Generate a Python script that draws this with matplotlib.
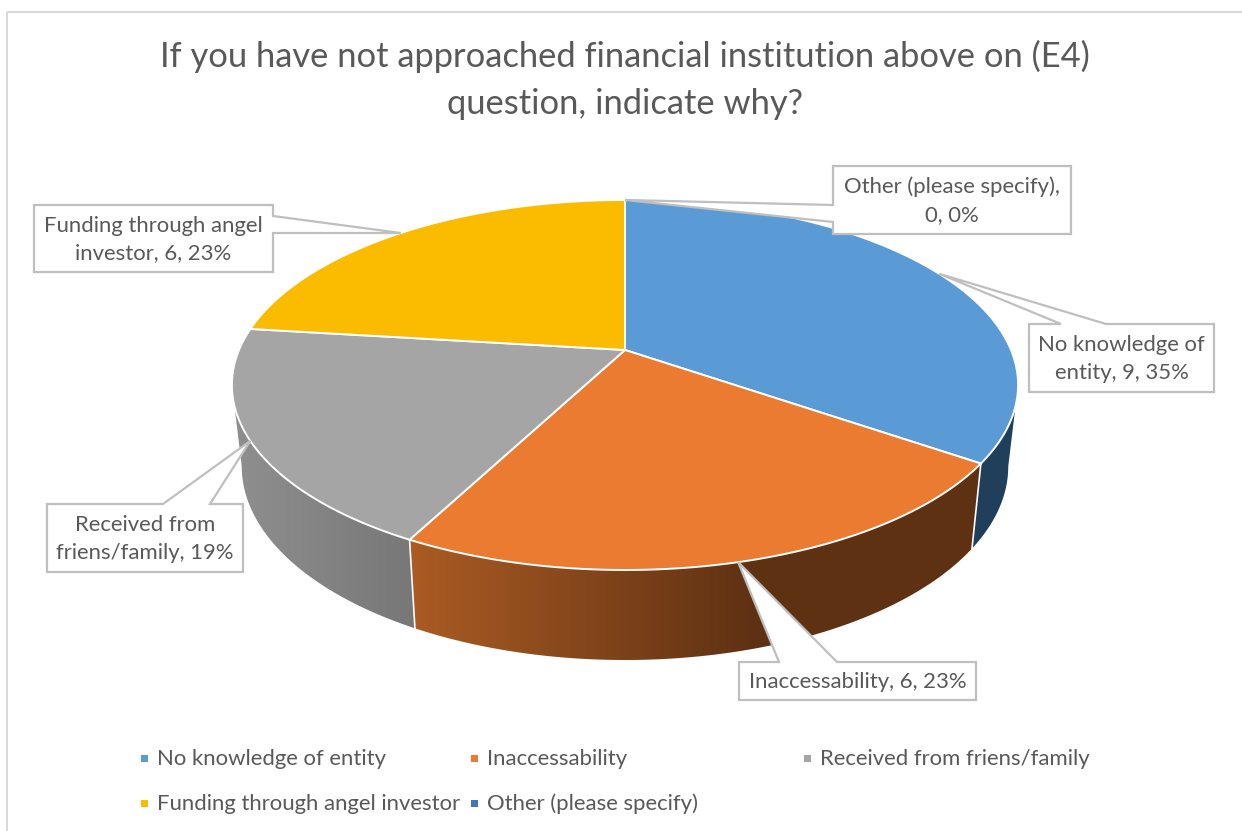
#3D style pie chart of the reasons for not approaching a financial institution
import numpy as np
import matplotlib.pyplot as plt
from matplotlib.patches import Polygon, Rectangle

plt.rcParams['font.family'] = ['Lato', 'DejaVu Sans']

title = 'If you have not approached financial institution above on (E4)\nquestion, indicate why?'
categories = ['No knowledge of entity', 'Inaccessability', 'Received from friens/family',
              'Funding through angel investor', 'Other (please specify)']
values = [9, 6, 5, 6, 0]
slice_labels = ['No knowledge of\nentity, 9, 35%', 'Inaccessability, 6, 23%',
                'Received from\nfriens/family, 19%', 'Funding through angel\ninvestor, 6, 23%',
                'Other (please specify),\n0, 0%']

colors = ['#5B9BD5', '#EA7B30', '#A5A5A5', '#FBBC00', '#4472C4']
# wall shading, left colour then right colour, with the x range of the ramp
wall_ramps = {0: ('#203F5B', '#203F5B', 970, 1020),
              1: ('#AB5B23', '#5E3113', 412, 760),
              2: ('#8E8E8E', '#777777', 240, 417)}
border = '#BFBFBF'
text_color = '#595959'

# callout boxes: x0, y0, x1, y1, side of the pointer, pointer base
callouts = [(1029, 324, 1214, 392, 'top', (1061, 1106)),
            (739, 662, 976, 700, 'top', (779, 837)),
            (47, 504, 243, 572, 'top', (163, 210)),
            (34, 205, 273, 272, 'right', (216, 233)),
            (833, 166, 1071, 234, 'left', (222, 205))]

legend_marks = [(144, 758), (474, 758), (807, 758), (144, 803), (474, 803)]

cx, cy = 625, 350
R, H, k = 386, 178.4, 0.189


def top_rim(theta):
    # perspective view of the pie top, theta runs clockwise from 12 o'clock
    u, v = np.sin(theta), np.cos(theta)
    den = 1 + k * v
    return cx + R * u / den, cy - H * v / den


def bottom_rim(theta):
    x, y = top_rim(theta)
    return cx + (x - cx) * 0.975, y + 85 + (y - 463) * 0.047


def callout_outline(box, tip):
    x0, y0, x1, y1, side, base = box
    pts = [(x0, y0)]
    if side == 'top':
        pts += [(base[0], y0), tip, (base[1], y0)]
    pts += [(x1, y0)]
    if side == 'right':
        pts += [(x1, base[0]), tip, (x1, base[1])]
    pts += [(x1, y1), (x0, y1)]
    if side == 'left':
        pts += [(x0, base[0]), tip, (x0, base[1])]
    return pts


fig = plt.figure(figsize=(12.42, 8.31), dpi=100)
ax = fig.add_axes([0, 0, 1, 1])

# chart frame
ax.add_patch(Rectangle((7, 12), 1300, 900, fill=False, ec='#D9D9D9', lw=1.5, zorder=1))

edges = np.cumsum([0] + values) / sum(values) * 2 * np.pi

# only the front of the rim shows a wall, between the two side extremes of the ellipse
front_start = np.arccos(-k)
front_end = 2 * np.pi - front_start

# outer walls
for i in range(len(values)):
    t0 = max(edges[i], front_start)
    t1 = min(edges[i + 1], front_end)
    if values[i] == 0 or t1 <= t0:
        continue
    t = np.linspace(t0, t1, 200)
    tx, ty = top_rim(t)
    bx, by = bottom_rim(t)
    xs = np.r_[tx, bx[::-1]]
    ys = np.r_[ty, by[::-1]]
    wall = Polygon(np.c_[xs, ys], closed=True, fc='none', ec='none', transform=ax.transData)
    ax.add_patch(wall)
    c0, c1, r0, r1 = wall_ramps[i]
    ramp = np.linspace(0, 1, 256)[None, :, None]
    rgb0 = np.array(plt.matplotlib.colors.to_rgb(c0))
    rgb1 = np.array(plt.matplotlib.colors.to_rgb(c1))
    im = ax.imshow(rgb0 + (rgb1 - rgb0) * ramp, extent=(r0, r1, 700, 300), aspect='auto', zorder=2)
    im.set_clip_path(wall)
    # flat colour past the end of the ramp
    ax.add_patch(Rectangle((r1, 300), 400, 400, fc=c1, ec='none', zorder=2, clip_path=wall))
    ax.add_patch(Rectangle((r0 - 100, 300), 100, 400, fc=c0, ec='none', zorder=2, clip_path=wall))
    if t1 == edges[i + 1]:
        ax.plot([tx[-1], bx[-1]], [ty[-1], by[-1]], color='white', lw=1.2, zorder=3)

# pie top
for i in range(len(values)):
    if values[i] == 0:
        continue
    t = np.linspace(edges[i], edges[i + 1], 300)
    tx, ty = top_rim(t)
    ax.add_patch(Polygon(np.c_[np.r_[cx, tx], np.r_[cy, ty]], closed=True,
                         fc=colors[i], ec='white', lw=1.4, joinstyle='round', zorder=4))

# callouts with pointers to the middle of each slice
mids = (edges[:-1] + edges[1:]) / 2
for i in range(len(values)):
    tip = top_rim(mids[i])
    box = callouts[i]
    ax.add_patch(Polygon(callout_outline(box, tip), closed=True, fc='white', ec=border,
                         lw=1.6, joinstyle='miter', zorder=5))
    ax.text((box[0] + box[2]) / 2, (box[1] + box[3]) / 2 + 1, slice_labels[i], ha='center', va='center',
            fontsize=15.9, color=text_color, linespacing=1.5, zorder=6)

ax.text(625, 80, title, ha='center', va='center', fontsize=24.8, color=text_color, linespacing=1.55)

# legend
for i in range(len(categories)):
    mx, my = legend_marks[i]
    ax.add_patch(Rectangle((mx - 3.5, my - 3.5), 7, 7, fc=colors[i], ec='none'))
    ax.text(mx + 13, my + 1, categories[i], ha='left', va='center', fontsize=15.9, color=text_color)

ax.set_xlim(0, 1242)
ax.set_ylim(831, 0)
ax.axis('off')

fig.savefig('out.png', dpi=100)
